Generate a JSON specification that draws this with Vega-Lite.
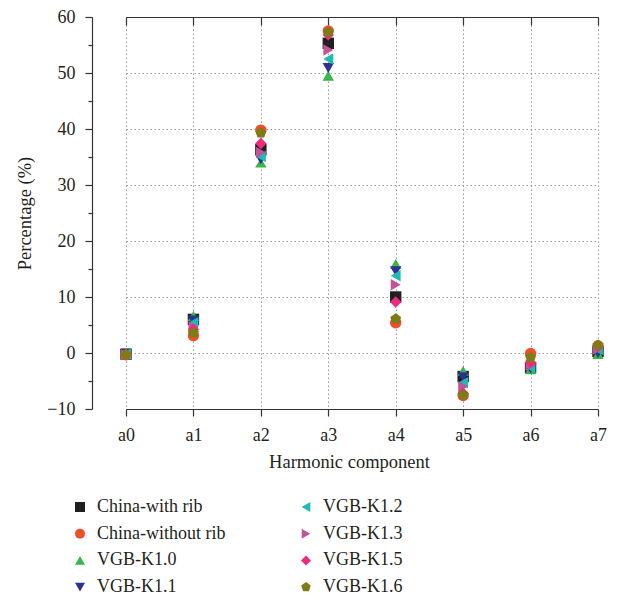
{
 "$schema": "https://vega.github.io/schema/vega-lite/v6.json",
 "width": 534,
 "height": 392,
 "autosize": "none",
 "padding": {"left": 92, "top": 17, "right": 0, "bottom": 192},
 "background": "white",
 "config": {"view": {"stroke": null}, "font": "Liberation Serif"},
 "data": {"values": [
  {"component":"a0","series":"China-with rib","percentage":-0.2},
  {"component":"a1","series":"China-with rib","percentage":6.0},
  {"component":"a2","series":"China-with rib","percentage":36.3},
  {"component":"a3","series":"China-with rib","percentage":55.3},
  {"component":"a4","series":"China-with rib","percentage":10.0},
  {"component":"a5","series":"China-with rib","percentage":-4.2},
  {"component":"a6","series":"China-with rib","percentage":-2.6},
  {"component":"a7","series":"China-with rib","percentage":0.3},
  {"component":"a0","series":"China-without rib","percentage":-0.3},
  {"component":"a1","series":"China-without rib","percentage":3.1},
  {"component":"a2","series":"China-without rib","percentage":39.8},
  {"component":"a3","series":"China-without rib","percentage":57.5},
  {"component":"a4","series":"China-without rib","percentage":5.4},
  {"component":"a5","series":"China-without rib","percentage":-7.6},
  {"component":"a6","series":"China-without rib","percentage":-0.1},
  {"component":"a7","series":"China-without rib","percentage":1.3},
  {"component":"a0","series":"VGB-K1.0","percentage":-0.1},
  {"component":"a1","series":"VGB-K1.0","percentage":6.6},
  {"component":"a2","series":"VGB-K1.0","percentage":34.0},
  {"component":"a3","series":"VGB-K1.0","percentage":49.5},
  {"component":"a4","series":"VGB-K1.0","percentage":15.9},
  {"component":"a5","series":"VGB-K1.0","percentage":-3.2},
  {"component":"a6","series":"VGB-K1.0","percentage":-2.9},
  {"component":"a7","series":"VGB-K1.0","percentage":-0.2},
  {"component":"a0","series":"VGB-K1.1","percentage":-0.2},
  {"component":"a1","series":"VGB-K1.1","percentage":5.8},
  {"component":"a2","series":"VGB-K1.1","percentage":34.6},
  {"component":"a3","series":"VGB-K1.1","percentage":50.9},
  {"component":"a4","series":"VGB-K1.1","percentage":14.6},
  {"component":"a5","series":"VGB-K1.1","percentage":-4.3},
  {"component":"a6","series":"VGB-K1.1","percentage":-2.8},
  {"component":"a7","series":"VGB-K1.1","percentage":0.0},
  {"component":"a0","series":"VGB-K1.2","percentage":-0.2},
  {"component":"a1","series":"VGB-K1.2","percentage":5.4},
  {"component":"a2","series":"VGB-K1.2","percentage":35.1},
  {"component":"a3","series":"VGB-K1.2","percentage":52.5},
  {"component":"a4","series":"VGB-K1.2","percentage":13.8},
  {"component":"a5","series":"VGB-K1.2","percentage":-5.3},
  {"component":"a6","series":"VGB-K1.2","percentage":-2.6},
  {"component":"a7","series":"VGB-K1.2","percentage":0.6},
  {"component":"a0","series":"VGB-K1.3","percentage":-0.3},
  {"component":"a1","series":"VGB-K1.3","percentage":4.7},
  {"component":"a2","series":"VGB-K1.3","percentage":35.8},
  {"component":"a3","series":"VGB-K1.3","percentage":54.1},
  {"component":"a4","series":"VGB-K1.3","percentage":12.2},
  {"component":"a5","series":"VGB-K1.3","percentage":-6.0},
  {"component":"a6","series":"VGB-K1.3","percentage":-2.2},
  {"component":"a7","series":"VGB-K1.3","percentage":0.7},
  {"component":"a0","series":"VGB-K1.5","percentage":-0.3},
  {"component":"a1","series":"VGB-K1.5","percentage":4.2},
  {"component":"a2","series":"VGB-K1.5","percentage":37.4},
  {"component":"a3","series":"VGB-K1.5","percentage":56.8},
  {"component":"a4","series":"VGB-K1.5","percentage":9.1},
  {"component":"a5","series":"VGB-K1.5","percentage":-7.2},
  {"component":"a6","series":"VGB-K1.5","percentage":-1.7},
  {"component":"a7","series":"VGB-K1.5","percentage":1.2},
  {"component":"a0","series":"VGB-K1.6","percentage":-0.3},
  {"component":"a1","series":"VGB-K1.6","percentage":3.6},
  {"component":"a2","series":"VGB-K1.6","percentage":39.3},
  {"component":"a3","series":"VGB-K1.6","percentage":57.3},
  {"component":"a4","series":"VGB-K1.6","percentage":6.1},
  {"component":"a5","series":"VGB-K1.6","percentage":-7.5},
  {"component":"a6","series":"VGB-K1.6","percentage":-0.8},
  {"component":"a7","series":"VGB-K1.6","percentage":1.4}
 ]},
 "layer": [
  {
   "mark": {"type": "point", "filled": true, "size": 130, "opacity": 1, "strokeWidth": 0},
   "encoding": {
    "x": {"field": "component", "type": "ordinal",
     "scale": {"type": "point", "domain": ["a0","a1","a2","a3","a4","a5","a6","a7"], "range": [34, 506], "padding": 0},
     "axis": {"title": "Harmonic component", "titleFont": "Liberation Serif", "titleFontSize": 18.5, "titleFontWeight": "normal", "titleColor": "#231f20", "titlePadding": 8, "titleX": 257,
      "labelFont": "Liberation Serif", "labelFontSize": 18, "labelColor": "#231f20", "labelAngle": 0, "labelPadding": 10,
      "domainColor": "#333333", "domainWidth": 1.2, "tickColor": "#333333", "tickWidth": 1.2, "tickSize": 7,
      "grid": true, "gridColor": "#999999", "gridDash": [1.5, 2.5], "gridWidth": 1}},
    "y": {"field": "percentage", "type": "quantitative",
     "scale": {"domain": [-10, 60], "nice": false, "zero": false},
     "axis": {"title": "Percentage (%)", "titleFont": "Liberation Serif", "titleFontSize": 18.5, "titleFontWeight": "normal", "titleColor": "#231f20", "titlePadding": 12,
      "values": [-10,-5,0,5,10,15,20,25,30,35,40,45,50,55,60],
      "labelExpr": "datum.value % 10 === 0 ? datum.label : ''",
      "labelFont": "Liberation Serif", "labelFontSize": 18, "labelColor": "#231f20", "labelPadding": 10,
      "domainColor": "#333333", "domainWidth": 1.2, "tickColor": "#333333", "tickWidth": 1.2,
      "tickSize": {"condition": {"test": "datum.value % 10 === 0", "value": 7}, "value": 4},
      "grid": true, "gridColor": "#999999", "gridDash": [1.5, 2.5], "gridWidth": 1,
      "gridOpacity": {"condition": {"test": "datum.value % 10 === 0", "value": 1}, "value": 0}}},
    "color": {"field": "series", "type": "nominal",
     "scale": {"domain": ["China-with rib","China-without rib","VGB-K1.0","VGB-K1.1","VGB-K1.2","VGB-K1.3","VGB-K1.5","VGB-K1.6"],
      "range": ["#231f20","#f04e2b","#39b54a","#2e3192","#1cbbb4","#c1549c","#ee2a7b","#7f7b17"]},
     "legend": {"orient": "none", "legendX": -21, "legendY": 481, "columns": 2, "title": null, "padding": 0,
      "symbolSize": 100, "symbolStrokeWidth": 0, "labelFont": "Liberation Serif", "labelFontSize": 18, "labelColor": "#231f20",
      "labelOffset": 8, "columnPadding": 71, "rowPadding": 8.7, "labelLimit": 300}},
    "shape": {"field": "series", "type": "nominal",
     "scale": {"domain": ["China-with rib","China-without rib","VGB-K1.0","VGB-K1.1","VGB-K1.2","VGB-K1.3","VGB-K1.5","VGB-K1.6"],
      "range": ["square","circle","triangle-up","triangle-down","triangle-left","triangle-right","diamond","M0,-1L0.951,-0.309L0.588,0.809L-0.588,0.809L-0.951,-0.309Z"]},
     "legend": {"orient": "none", "legendX": -21, "legendY": 481, "columns": 2, "title": null, "padding": 0,
      "symbolSize": 100, "symbolStrokeWidth": 0, "labelFont": "Liberation Serif", "labelFontSize": 18, "labelColor": "#231f20",
      "labelOffset": 8, "columnPadding": 71, "rowPadding": 8.7, "labelLimit": 300}}
   }
  },
  {
   "mark": {"type": "point", "opacity": 0},
   "encoding": {
    "x": {"field": "component", "type": "ordinal",
     "axis": {"orient": "top", "labels": false, "title": null, "grid": false, "domainColor": "#333333", "domainWidth": 1.2, "tickColor": "#333333", "tickWidth": 1.2, "tickSize": -8}},
    "y": {"field": "percentage", "type": "quantitative", "axis": null}
   }
  }
 ],
 "resolve": {"axis": {"x": "independent", "y": "independent"}}
}
